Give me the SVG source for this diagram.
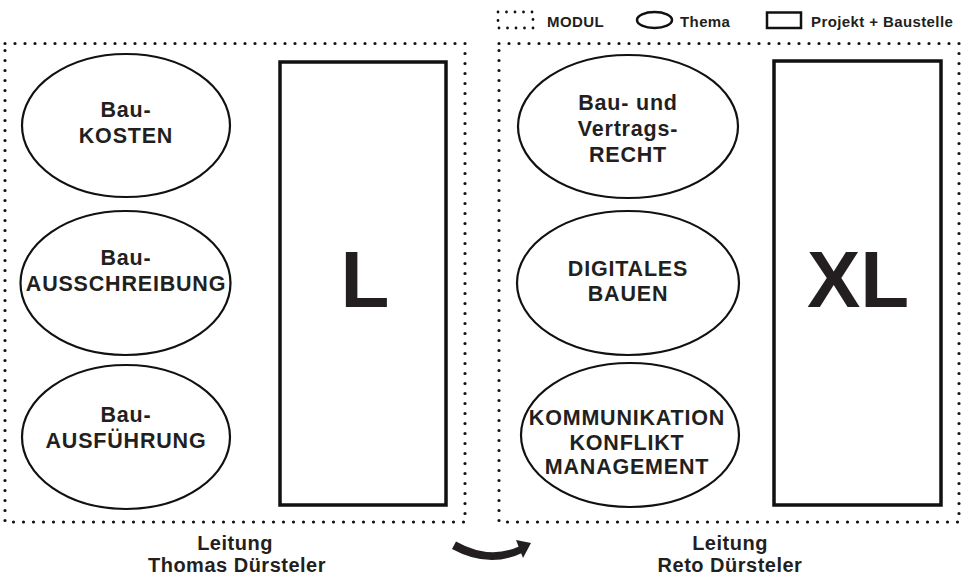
<svg xmlns="http://www.w3.org/2000/svg" width="967" height="577" viewBox="0 0 967 577">
<style>
.dot{fill:none;stroke:#111;stroke-width:3.2;stroke-linecap:round;stroke-dasharray:0 10}
.ell{fill:#fff;stroke:#111;stroke-width:2.2}
.prj{fill:#fff;stroke:#111;stroke-width:3.5}
.t{font-family:"Liberation Sans",Arial,sans-serif;font-weight:bold;fill:#231f20;text-anchor:middle}
.n{font-size:21.5px;letter-spacing:0.8px}
.big{font-size:80px}
.lg{font-size:15px;letter-spacing:0.4px;text-anchor:start}
.ft{font-size:20px;letter-spacing:0.5px}
</style>
<rect width="967" height="577" fill="#fff"/>
<g id="legend">
<rect class="dot" x="498" y="12" width="35" height="16" style="stroke-width:2.8;stroke-dasharray:0 8.5"/>
<text class="t lg" x="547" y="27">MODUL</text>
<ellipse cx="654.5" cy="20" rx="17.5" ry="8" fill="#fff" stroke="#111" stroke-width="2.5"/>
<text class="t lg" x="680" y="27">Thema</text>
<rect x="767" y="12.5" width="34" height="15.5" fill="#fff" stroke="#111" stroke-width="2.5"/>
<text class="t lg" x="811" y="27">Projekt + Baustelle</text>
</g>
<g id="modul-L">
<rect class="dot" x="5" y="43.5" width="460" height="478.5"/>
<text class="t ft" x="235" y="550">Leitung</text>
<text class="t ft" x="237" y="572">Thomas Dürsteler</text>
</g>
<g id="modul-XL">
<rect class="dot" x="499" y="43.5" width="460" height="478.5"/>
<text class="t ft" x="730" y="550">Leitung</text>
<text class="t ft" x="730" y="572">Reto Dürsteler</text>
</g>
<g id="projekt-L">
<rect class="prj" x="280" y="62" width="166" height="443"/>
<text class="t big" x="365" y="307">L</text>
</g>
<g id="projekt-XL">
<rect class="prj" x="774" y="61" width="167" height="444"/>
<text class="t big" x="858" y="307">XL</text>
</g>
<g id="thema-baukosten">
<ellipse class="ell" cx="126" cy="125.5" rx="104" ry="71.5"/>
<text class="t n" x="126" y="117">Bau-</text>
<text class="t n" x="126" y="143">KOSTEN</text>
</g>
<g id="thema-bauausschreibung">
<ellipse class="ell" cx="125.5" cy="283" rx="105" ry="72"/>
<text class="t n" x="126" y="265">Bau-</text>
<text class="t n" x="126" y="291">AUSSCHREIBUNG</text>
</g>
<g id="thema-bauausfuehrung">
<ellipse class="ell" cx="126" cy="437" rx="104" ry="72"/>
<text class="t n" x="126" y="421.5">Bau-</text>
<text class="t n" x="126" y="447.5">AUSFÜHRUNG</text>
</g>
<g id="thema-recht">
<ellipse class="ell" cx="628" cy="126.5" rx="110" ry="71.5"/>
<text class="t n" x="628" y="109.5">Bau- und</text>
<text class="t n" x="628" y="135.5">Vertrags-</text>
<text class="t n" x="628" y="162">RECHT</text>
</g>
<g id="thema-digital">
<ellipse class="ell" cx="628" cy="283" rx="111" ry="72"/>
<text class="t n" x="628" y="275.5">DIGITALES</text>
<text class="t n" x="628" y="300.5">BAUEN</text>
</g>
<g id="thema-kommunikation">
<ellipse class="ell" cx="630" cy="435" rx="109" ry="72"/>
<text class="t n" x="627" y="425">KOMMUNIKATION</text>
<text class="t n" x="627" y="450">KONFLIKT</text>
<text class="t n" x="627" y="474">MANAGEMENT</text>
</g>
<g id="connectors">
<path d="M456,541.5 Q489,560 519,546.5 L522,553 Q489,569 452,549 Z" fill="#231f20"/>
<polygon points="516,540 531,543 523,558" fill="#231f20"/>
</g>
</svg>
